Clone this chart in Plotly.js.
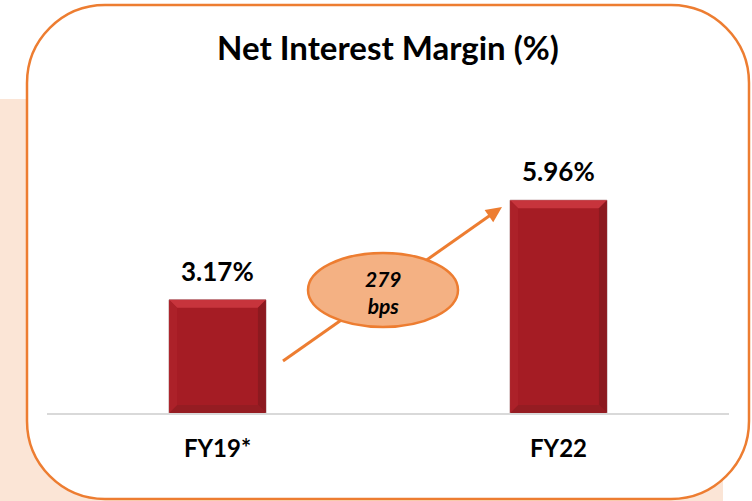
<!DOCTYPE html>
<html>
<head>
<meta charset="utf-8">
<script src="https://cdn.plot.ly/plotly-3.0.1.min.js"></script>
<style>html,body{margin:0;padding:0;background:#fff;}#chart{width:752px;height:501px;}</style>
</head>
<body>
<div id="chart"></div>
<script>
// ---- data ----
const categories = ['FY19*', 'FY22'];
const nimValues = [3.17, 5.96];
const valueLabels = ['3.17%', '5.96%'];
const changeText = ['279', 'bps'];
const chartTitle = 'Net Interest Margin (%)';

// ---- layout geometry ----
const W = 752, H = 501, ML = 47, MR = 23, MT = 70, MB = 88;
const PW = W - ML - MR, PH = H - MT - MB;
const pxPerUnit = 35.7;
const yTop = PH / pxPerUnit;
const px = x => (x - ML) / PW;
const py = y => (H - MB - y) / PH;
const xIdx = categories.map((c, i) => i);

const ORANGE = '#ED7D31';
const FONT = 'Lato, "Open Sans", sans-serif';

function pathFrom(cmds) {
  return cmds.map(c => {
    const l = c[0];
    const pts = [];
    for (let k = 1; k < c.length; k += 2) pts.push(px(c[k]) + ',' + py(c[k + 1]));
    return l + pts.join(' ');
  }).join(' ');
}

const shapes = [];
// peach backdrop panel
shapes.push({type: 'rect', xref: 'paper', yref: 'paper', layer: 'below',
  x0: px(0), x1: px(723), y0: py(99), y1: py(H + 2),
  fillcolor: '#FBE5D6', line: {width: 0}});
// rounded white frame with orange border
(function () {
  const l = 27, t = 5, r = 749, b = 499, rad = 78, k = rad * 0.5523;
  const p = pathFrom([
    ['M', l + rad, t],
    ['L', r - rad, t],
    ['C', r - rad + k, t, r, t + rad - k, r, t + rad],
    ['L', r, b - rad],
    ['C', r, b - rad + k, r - rad + k, b, r - rad, b],
    ['L', l + rad, b],
    ['C', l + rad - k, b, l, b - rad + k, l, b - rad],
    ['L', l, t + rad],
    ['C', l, t + rad - k, l + rad - k, t, l + rad, t]
  ]) + ' Z';
  shapes.push({type: 'path', xref: 'paper', yref: 'paper', layer: 'below', path: p,
    fillcolor: '#FFFFFF', line: {color: ORANGE, width: 2.5}});
})();

// subtle bevel effect on bars (derived from data)
const hw = 0.142, bx = 8 / (PW / 2), by = 8 / pxPerUnit;
xIdx.forEach((i, n) => {
  const v = nimValues[n];
  const x0 = i - hw, x1 = i + hw;
  const poly = (pts, col) => shapes.push({type: 'path', xref: 'x', yref: 'y', layer: 'above',
    path: 'M' + pts.map(p => p[0] + ',' + p[1]).join(' L') + ' Z', fillcolor: col, line: {width: 0}});
  poly([[x0, v], [x1, v], [x1 - bx, v - by], [x0 + bx, v - by]], '#C7343C');
  poly([[x1, v], [x1, 0], [x1 - bx, by], [x1 - bx, v - by]], '#8C191F');
  poly([[x0, 0], [x1, 0], [x1 - bx, by], [x0 + bx, by]], '#951C22');
  poly([[x0, v], [x0, 0], [x0 + bx, by], [x0 + bx, v - by]], '#AC2129');
});

// growth arrow (tail -> tip), drawn before the ellipse so the ellipse covers it
(function () {
  const tail = [283, 361], tip = [502, 207];
  const dx = tip[0] - tail[0], dy = tip[1] - tail[1];
  const len = Math.hypot(dx, dy), ux = dx / len, uy = dy / len;
  const hl = 16, hwid = 7.5;
  const base = [tip[0] - ux * hl, tip[1] - uy * hl];
  shapes.push({type: 'line', xref: 'paper', yref: 'paper',
    x0: px(tail[0]), y0: py(tail[1]), x1: px(base[0] + ux * 2), y1: py(base[1] + uy * 2),
    line: {color: ORANGE, width: 3}});
  shapes.push({type: 'path', xref: 'paper', yref: 'paper',
    path: pathFrom([['M', tip[0], tip[1]], ['L', base[0] - uy * hwid, base[1] + ux * hwid],
      ['L', base[0] + uy * hwid, base[1] - ux * hwid]]) + ' Z',
    fillcolor: ORANGE, line: {width: 0}});
  shapes.push({type: 'circle', xref: 'paper', yref: 'paper',
    x0: px(308), x1: px(458), y0: py(327), y1: py(253),
    fillcolor: '#F4B183', line: {color: ORANGE, width: 2.5}});
})();

const annotations = [];
xIdx.forEach((i, n) => annotations.push({
  x: i, y: nimValues[n], xref: 'x', yref: 'y', text: '<b>' + valueLabels[n] + '</b>',
  showarrow: false, yanchor: 'middle', yshift: 29,
  font: {family: FONT, size: 26, color: '#000'}
}));
annotations.push({
  xref: 'paper', yref: 'paper', x: px(383), y: py(292), showarrow: false,
  text: '<b><i>' + changeText.join('<br>') + '</i></b>',
  font: {family: FONT, size: 21, color: '#000'}, align: 'center'
});

const trace = {
  type: 'bar', x: xIdx, y: nimValues, width: hw * 2,
  marker: {color: '#A51C24', line: {color: '#B08A8C', width: 1}},
  hoverinfo: 'skip'
};

const layout = {
  width: W, height: H,
  margin: {l: ML, r: MR, t: MT, b: MB, pad: 0},
  paper_bgcolor: '#FFFFFF', plot_bgcolor: 'rgba(0,0,0,0)',
  showlegend: false,
  title: {text: '<b>' + chartTitle + '</b>', xref: 'container', yref: 'container',
    x: 388 / W, y: 1 - 48 / H, xanchor: 'center', yanchor: 'middle',
    font: {family: FONT, size: 33, color: '#000'}},
  xaxis: {range: [-0.5, 1.5], tickvals: xIdx, ticktext: categories.map(c => '<b>' + c + '</b>'),
    showgrid: false, zeroline: false, showline: true, linecolor: '#D9D9D9', linewidth: 2,
    ticks: '', ticklabelstandoff: 13, tickfont: {family: FONT, size: 24, color: '#000'}, fixedrange: true},
  yaxis: {range: [0, yTop], visible: false, showgrid: false, zeroline: false, fixedrange: true},
  shapes: shapes, annotations: annotations
};

Plotly.newPlot('chart', [trace], layout, {displayModeBar: false, staticPlot: true});
</script>
</body>
</html>
